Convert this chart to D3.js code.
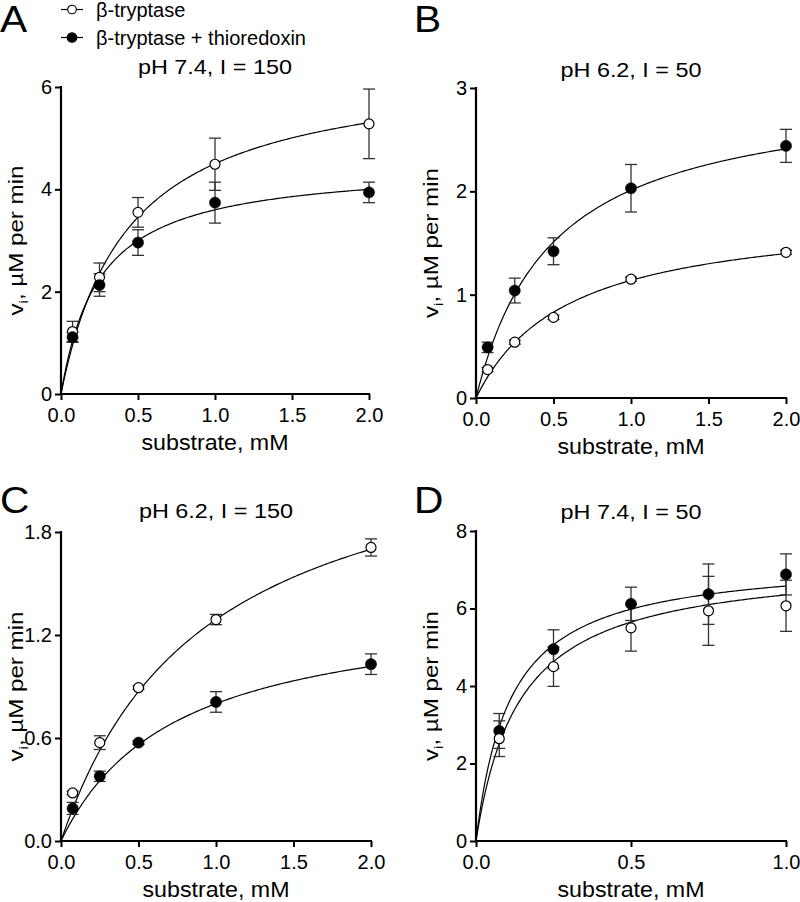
<!DOCTYPE html>
<html><head><meta charset="utf-8">
<script src="https://cdn.jsdelivr.net/npm/d3@7"></script>
<style>body{margin:0;background:#fff}</style>
</head><body>
<svg id="chart" width="800" height="902"></svg>
<script>
// ---------- data ----------
const panelLetters = ["A", "B", "C", "D"];
const panelTitles = ["pH 7.4, I = 150", "pH 6.2, I = 50", "pH 6.2, I = 150", "pH 7.4, I = 50"];
const seriesNames = ["β-tryptase", "β-tryptase + thioredoxin"];
const substrateABC = [0.075, 0.25, 0.5, 1.0, 2.0];
const substrateD = [0.075, 0.25, 0.5, 0.75, 1.0];
const xTicksABC = [0, 0.5, 1.0, 1.5, 2.0];
const xTicksD = [0, 0.5, 1.0];
const yTicksA = [0, 2, 4, 6];
const yTicksB = [0, 1, 2, 3];
const yTicksC = [0, 0.6, 1.2, 1.8];
const yTicksD = [0, 2, 4, 6, 8];
// open = β-tryptase, filled = β-tryptase + thioredoxin (mean, error)
const openA = [1.22, 2.28, 3.55, 4.49, 5.28];
const openErrA = [0.2, 0.28, 0.29, 0.51, 0.68];
const filledA = [1.11, 2.13, 2.96, 3.74, 3.94];
const filledErrA = [0.1, 0.22, 0.25, 0.4, 0.2];
const openB = [0.275, 0.54, 0.78, 1.15, 1.41];
const openErrB = [0.02, 0.02, 0.02, 0.02, 0.02];
const filledB = [0.49, 1.04, 1.42, 2.03, 2.44];
const filledErrB = [0.05, 0.12, 0.13, 0.23, 0.16];
const openC = [0.28, 0.573, 0.893, 1.29, 1.71];
const openErrC = [0.01, 0.04, 0.01, 0.03, 0.05];
const filledC = [0.19, 0.377, 0.573, 0.81, 1.03];
const filledErrC = [0.035, 0.03, 0.01, 0.06, 0.06];
const openD = [2.64, 4.5, 5.5, 5.94, 6.07];
const openErrD = [0.46, 0.51, 0.6, 0.89, 0.66];
const filledD = [2.84, 4.95, 6.12, 6.37, 6.88];
const filledErrD = [0.45, 0.5, 0.43, 0.78, 0.53];
// Michaelis–Menten fitted parameters
const vmaxOpen = [6.45, 1.81, 2.49, 7.25];
const kmOpen = [0.433, 0.59, 0.93, 0.1416];
const vmaxFilled = [4.5, 3.01, 1.395, 7.31];
const kmFilled = [0.25, 0.497, 0.743, 0.111];

// ---------- layout ----------
const FONT = "'Liberation Sans', Arial, Helvetica, sans-serif";
const layout = [
  {x0: 61, x1: 369, y0: 394, y1: 87, titleY: 74, letterX: 0, letterY: 32, ylabX: 23, xmax: 2, ymax: 6, yfmt: d3.format("d")},
  {x0: 476, x1: 786, y0: 398, y1: 88, titleY: 77, letterX: 414, letterY: 32, ylabX: 438, xmax: 2, ymax: 3, yfmt: d3.format("d")},
  {x0: 61, x1: 371, y0: 841, y1: 532, titleY: 518, letterX: 0, letterY: 513, ylabX: 23, xmax: 2, ymax: 1.8, yfmt: d3.format(".1f")},
  {x0: 476, x1: 786, y0: 841, y1: 531, titleY: 519, letterX: 414, letterY: 513, ylabX: 438, xmax: 1, ymax: 8, yfmt: d3.format("d")}
];
const xsAll = [substrateABC, substrateABC, substrateABC, substrateD];
const xTicksAll = [xTicksABC, xTicksABC, xTicksABC, xTicksD];
const yTicksAll = [yTicksA, yTicksB, yTicksC, yTicksD];
const openAll = [openA, openB, openC, openD];
const openErrAll = [openErrA, openErrB, openErrC, openErrD];
const filledAll = [filledA, filledB, filledC, filledD];
const filledErrAll = [filledErrA, filledErrB, filledErrC, filledErrD];
const filledOnTop = [true, true, true, false];

const svg = d3.select("#chart");

function stretchText(parent, x, y, str, size, sx, anchor, rot) {
  return parent.append("g")
    .attr("transform", `translate(${x},${y}) rotate(${rot || 0}) scale(${sx},1)`)
    .append("text")
    .attr("text-anchor", anchor || "middle")
    .attr("font-family", FONT)
    .attr("font-size", size)
    .attr("fill", "#000")
    .text(str);
}

layout.forEach((L, i) => {
  const g = svg.append("g");
  const x = d3.scaleLinear().domain([0, L.xmax]).range([L.x0, L.x1]);
  const y = d3.scaleLinear().domain([0, L.ymax]).range([L.y0, L.y1]);

  // axes
  const xAxis = d3.axisBottom(x).tickValues(xTicksAll[i]).tickFormat(d3.format(".1f"))
    .tickSize(6).tickPadding(8).tickSizeOuter(0);
  const yAxis = d3.axisLeft(y).tickValues(yTicksAll[i]).tickFormat(L.yfmt)
    .tickSize(6).tickPadding(3).tickSizeOuter(0);
  const gx = g.append("g").attr("transform", `translate(0,${L.y0})`).call(xAxis);
  const gy = g.append("g").attr("transform", `translate(${L.x0},0)`).call(yAxis);
  [gx, gy].forEach(a => {
    a.select(".domain").attr("stroke", "#000").attr("stroke-width", 2.2);
    a.selectAll(".tick line").attr("stroke", "#000").attr("stroke-width", 2);
    a.selectAll(".tick text").attr("font-family", FONT).attr("font-size", 20).attr("fill", "#000");
  });
  // extend domain lines to cover corner
  gx.select(".domain").attr("d", `M${L.x0 - 1},0H${L.x1 + 1}`);
  gy.select(".domain").attr("d", `M0,${L.y0 + 1}V${L.y1 - 1}`);

  // title, letter, axis labels
  stretchText(g, (L.x0 + L.x1) / 2, L.titleY, panelTitles[i], 19.5, 1.2, "middle");
  stretchText(g, L.letterX, L.letterY, panelLetters[i], 37, 1.1, "start");
  stretchText(g, (L.x0 + L.x1) / 2, L.y0 + 56, "substrate, mM", 21.5, 1.08, "middle");
  const yl = stretchText(g, L.ylabX, (L.y0 + L.y1) / 2, "", 21, 1.15, "middle", -90);
  yl.append("tspan").text("v");
  yl.append("tspan").attr("font-size", 13).attr("dy", 5).text("i");
  yl.append("tspan").attr("dy", -5).text(", µM per min");

  // fitted curves
  const xs = xsAll[i];
  const samples = d3.range(0, 201).map(k => k / 200 * L.xmax);
  const line = d3.line().x(d => x(d[0])).y(d => y(d[1]));
  [[vmaxOpen[i], kmOpen[i]], [vmaxFilled[i], kmFilled[i]]].forEach(([vm, km]) => {
    g.append("path")
      .attr("d", line(samples.map(s => [s, vm * s / (km + s)])))
      .attr("fill", "none").attr("stroke", "#000").attr("stroke-width", 1.2);
  });

  const series = [
    {vals: openAll[i], errs: openErrAll[i], filled: false},
    {vals: filledAll[i], errs: filledErrAll[i], filled: true}
  ];
  if (!filledOnTop[i]) series.reverse();

  // error bars
  series.forEach(s => {
    s.vals.forEach((v, k) => {
      const e = s.errs[k];
      const cx = x(xs[k]);
      const eg = g.append("g").attr("stroke", "#333").attr("stroke-width", 1.3);
      eg.append("line").attr("x1", cx).attr("x2", cx).attr("y1", y(v - e)).attr("y2", y(v + e));
      eg.append("line").attr("x1", cx - 6).attr("x2", cx + 6).attr("y1", y(v - e)).attr("y2", y(v - e));
      eg.append("line").attr("x1", cx - 6).attr("x2", cx + 6).attr("y1", y(v + e)).attr("y2", y(v + e));
    });
  });
  // markers
  series.forEach(s => {
    g.selectAll(null).data(s.vals).enter().append("circle")
      .attr("cx", (d, k) => x(xs[k])).attr("cy", d => y(d))
      .attr("r", s.filled ? 5.6 : 5.0)
      .attr("fill", s.filled ? "#000" : "#fff")
      .attr("stroke", "#000").attr("stroke-width", s.filled ? 0.5 : 1.2);
  });
});

// legend
const leg = svg.append("g");
seriesNames.forEach((name, k) => {
  const yy = k === 0 ? 9.5 : 37.5;
  leg.append("line").attr("x1", 61).attr("x2", 83).attr("y1", yy).attr("y2", yy)
    .attr("stroke", "#000").attr("stroke-width", 1.2);
  leg.append("circle").attr("cx", 72).attr("cy", yy).attr("r", k === 0 ? 4.3 : 4.8)
    .attr("fill", k === 0 ? "#fff" : "#000").attr("stroke", "#000").attr("stroke-width", 1.1);
  leg.append("text").attr("x", 96).attr("y", yy + 7)
    .attr("font-family", FONT).attr("font-size", 20).attr("fill", "#000").text(name);
});
</script>
</body></html>
